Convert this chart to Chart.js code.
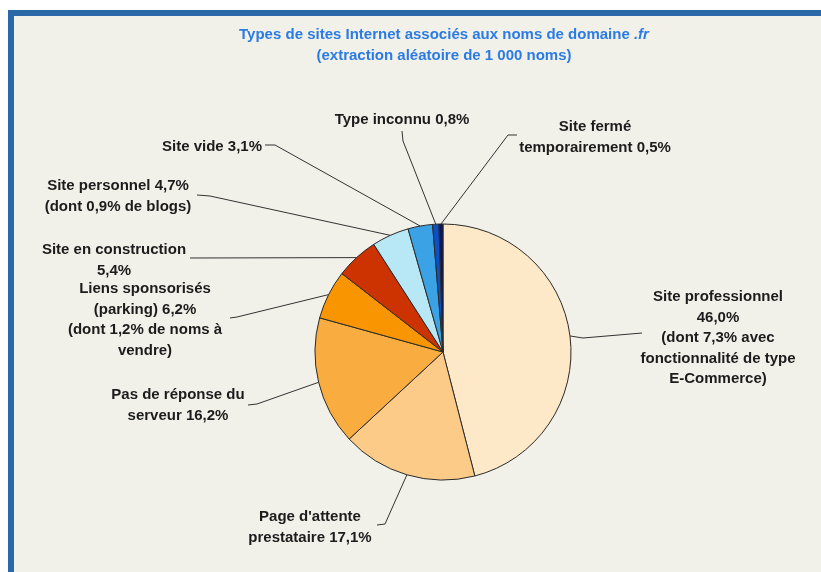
<!DOCTYPE html>
<html>
<head>
<meta charset="utf-8">
<script src="https://cdn.jsdelivr.net/npm/chart.js@4"></script>
<style>
  html, body { margin: 0; padding: 0; background: #fff; }
  canvas { display: block; }
</style>
</head>
<body>
<canvas id="pie" width="821" height="572"></canvas>
<script>
// données (%)
const categories = [
  'Site professionnel', "Page d'attente prestataire", 'Pas de réponse du serveur',
  'Liens sponsorisés (parking)', 'Site en construction', 'Site personnel',
  'Site vide', 'Type inconnu', 'Site fermé temporairement'
];
const values = [46.0, 17.1, 16.2, 6.2, 5.4, 4.7, 3.1, 0.8, 0.5];
const colors = ['#fde8c8', '#fccb87', '#f9ad40', '#f89500', '#cc3300', '#b8e7f5', '#3ba2e6', '#0e4fc4', '#07155a'];
const labelText = [
  ['Site professionnel', '46,0%', '(dont 7,3% avec', 'fonctionnalité de type', 'E-Commerce)'],
  ["Page d'attente", 'prestataire 17,1%'],
  ['Pas de réponse du', 'serveur 16,2%'],
  ['Liens sponsorisés', '(parking) 6,2%', '(dont 1,2% de noms à', 'vendre)'],
  ['Site en construction', '5,4%'],
  ['Site personnel 4,7%', '(dont 0,9% de blogs)'],
  ['Site vide 3,1%'],
  ['Type inconnu 0,8%'],
  ['Site fermé', 'temporairement 0,5%']
];

// position des étiquettes et coudes des traits de rappel
const labelPos = [
  { x: 718, y: 297, path: [[583, 338], [642, 333]] },
  { x: 310, y: 517, path: [[385, 524], [377, 525]] },
  { x: 178, y: 395, path: [[257, 404], [248, 405]] },
  { x: 145, y: 289, path: [[237, 317], [230, 318]] },
  { x: 114, y: 250, path: [[190, 258]] },
  { x: 118, y: 186, path: [[210, 196], [197, 195]] },
  { x: 212, y: 147, path: [[275, 145], [265, 145]] },
  { x: 402, y: 120, path: [[403, 141], [402, 131]] },
  { x: 595, y: 127, path: [[508, 135], [517, 135]] }
];

const FONT = 'bold 15px "Liberation Sans", Arial, sans-serif';

const fond = {
  id: 'fond',
  beforeDraw(chart) {
    const c = chart.ctx;
    c.save();
    c.fillStyle = '#ffffff';
    c.fillRect(0, 0, chart.width, chart.height);
    c.fillStyle = '#2a68a8';
    c.fillRect(8, 10, chart.width - 8, chart.height - 10);
    c.fillStyle = '#f1f0e9';
    c.fillRect(14, 16, chart.width - 14, chart.height - 16);

    // titre
    c.fillStyle = '#2b7be4';
    c.font = FONT;
    c.textBaseline = 'middle';
    const t1 = 'Types de sites Internet associés aux noms de domaine ';
    const t2 = '.fr';
    const w1 = c.measureText(t1).width;
    c.font = 'italic ' + FONT;
    const w2 = c.measureText(t2).width;
    const x0 = 444 - (w1 + w2) / 2;
    c.font = FONT;
    c.textAlign = 'left';
    c.fillText(t1, x0, 35);
    c.font = 'italic ' + FONT;
    c.fillText(t2, x0 + w1, 35);
    c.font = FONT;
    c.textAlign = 'center';
    c.fillText('(extraction aléatoire de 1 000 noms)', 444, 56);
    c.restore();
  }
};

const etiquettes = {
  id: 'etiquettes',
  afterDatasetsDraw(chart) {
    const c = chart.ctx;
    const arcs = chart.getDatasetMeta(0).data;
    c.save();
    arcs.forEach((arc, i) => {
      const mid = (arc.startAngle + arc.endAngle) / 2;
      const ax = arc.x + Math.cos(mid) * arc.outerRadius;
      const ay = arc.y + Math.sin(mid) * arc.outerRadius;
      const p = labelPos[i];
      c.strokeStyle = '#333';
      c.lineWidth = 1;
      c.beginPath();
      c.moveTo(ax, ay);
      p.path.forEach(pt => c.lineTo(pt[0], pt[1]));
      c.stroke();

      c.fillStyle = '#1c1c1c';
      c.font = FONT;
      c.textAlign = 'center';
      c.textBaseline = 'middle';
      labelText[i].forEach((line, k) => c.fillText(line, p.x, p.y + k * 20.5));
    });
    c.restore();
  }
};

new Chart(document.getElementById('pie'), {
  type: 'pie',
  data: {
    labels: categories,
    datasets: [{
      data: values,
      backgroundColor: colors,
      borderColor: '#2b2b2b',
      borderWidth: 1
    }]
  },
  options: {
    responsive: false,
    animation: false,
    radius: 128,
    layout: { padding: { left: 200, right: 135, top: 200, bottom: 68 } },
    plugins: {
      legend: { display: false },
      tooltip: { enabled: false },
      title: { display: false }
    }
  },
  plugins: [fond, etiquettes]
});
</script>
</body>
</html>
